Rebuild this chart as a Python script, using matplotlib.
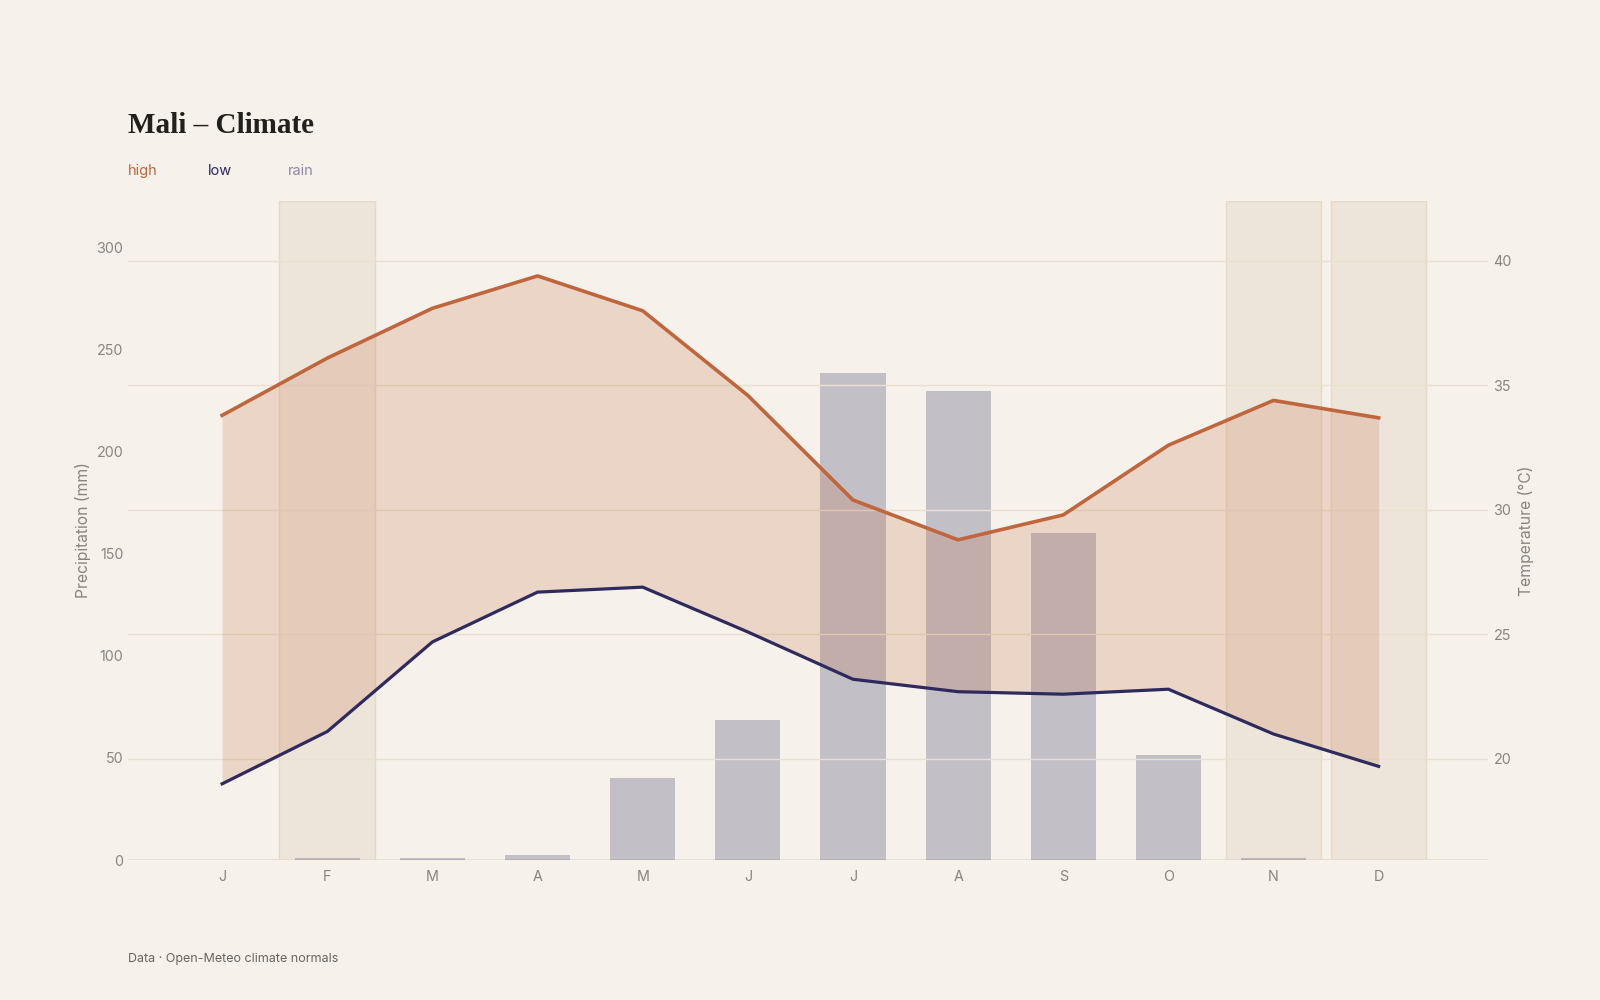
import matplotlib.pyplot as plt

# monthly climate normals, Mali
months = ["J", "F", "M", "A", "M", "J", "J", "A", "S", "O", "N", "D"]
high = [33.8, 36.1, 38.1, 39.4, 38.0, 34.6, 30.4, 28.8, 29.8, 32.6, 34.4, 33.7]
low = [19.0, 21.1, 24.7, 26.7, 26.9, 25.1, 23.2, 22.7, 22.6, 22.8, 21.0, 19.7]
rain = [0.0, 0.8, 0.8, 2.5, 40.0, 68.5, 238.5, 230.0, 160.5, 51.5, 0.8, 0.0]
dry_months = [1, 10, 11]

BG = "#f6f1ea"
HIGH_C = "#c0663e"
LOW_C = "#2e2a5e"
RAIN_C = "#8c88a8"
TICK_C = "#8a847d"
GRID_C = "#e8e0d0"

plt.rcParams["font.family"] = ["Inter", "DejaVu Sans"]

fig = plt.figure(figsize=(16, 10), dpi=100, facecolor=BG)
ax = fig.add_axes([0.0797, 0.14, 0.8503, 0.659])
ax.set_facecolor(BG)
ax2 = ax.twinx()
ax2.patch.set_visible(False)

x = list(range(len(months)))

# highlighted months
for m in dry_months:
    ax.axvspan(m - 0.455, m + 0.455, facecolor="#ede5d9", edgecolor="#e6dac6",
               linewidth=1, zorder=0)

ax.axhline(0, color="#e5dccb", linewidth=1.2, zorder=1)
ax.bar(x, rain, width=0.62, color=LOW_C, alpha=0.25, linewidth=0, zorder=2)

ax2.fill_between(x, low, high, color=HIGH_C, alpha=0.2, linewidth=0, zorder=1)
ax2.plot(x, high, color=HIGH_C, linewidth=2.6, zorder=3)
ax2.plot(x, low, color=LOW_C, linewidth=2.3, zorder=3)

ax.set_xlim(-0.9, 12.04)
ax.set_ylim(0, 323)
ax2.set_ylim(15.94, 42.41)

ax.set_xticks(x)
ax.set_xticklabels(months)
ax.set_yticks([0, 50, 100, 150, 200, 250, 300])
ax2.set_yticks([20, 25, 30, 35, 40])
ax2.grid(axis="y", color=GRID_C, linewidth=1)
ax2.set_axisbelow(True)

for a in (ax, ax2):
    for s in a.spines.values():
        s.set_visible(False)
    a.tick_params(length=0, labelsize=10.3, labelcolor=TICK_C)
ax.tick_params(axis="x", pad=7)
ax.tick_params(axis="y", pad=3)
ax2.tick_params(axis="y", pad=4)

ax.set_ylabel("Precipitation (mm)", fontsize=11.3, color=TICK_C)
ax.yaxis.set_label_coords(-0.0268, 0.5)
ax2.set_ylabel("Temperature (°C)", fontsize=11.3, color=TICK_C)
ax2.yaxis.set_label_coords(1.022, 0.5)

fig.text(0.0797, 0.867, "Mali – Climate", fontsize=21, fontweight="bold",
         family=["Liberation Serif", "DejaVu Serif"], color="#22201c",
         va="baseline")
fig.text(0.0797, 0.829, "high", fontsize=10.5, color=HIGH_C, va="center")
fig.text(0.130, 0.829, "low", fontsize=10.5, color=LOW_C, va="center")
fig.text(0.180, 0.829, "rain", fontsize=10.5, color=RAIN_C, va="center")
fig.text(0.0797, 0.041, "Data · Open-Meteo climate normals", fontsize=9,
         color="#6b655f", va="center")

fig.savefig("out.png", dpi=100, facecolor=BG)
